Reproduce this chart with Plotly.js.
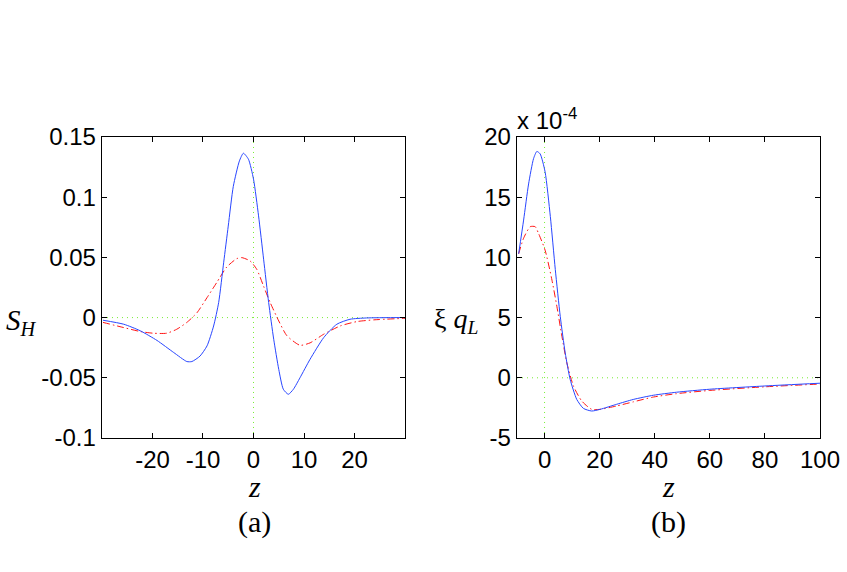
<!DOCTYPE html>
<html>
<head>
<meta charset="utf-8">
<script src="https://cdn.plot.ly/plotly-3.0.1.min.js"></script>
<style>body{margin:0}#chart{width:847px;height:572px}</style>
</head>
<body>
<div id="chart"></div>
<script>
// panel (a): S_H against z
const z_a = [-29.8, -25.7, -22.4, -19.1, -15.8, -13.2, -12.2, -10.6, -9.2, -7.9, -6.9, -5.9, -5.0, -4.0, -2.8, -2.0, -1.0, 0, 1.0, 2.0, 3.0, 4.0, 5.0, 5.9, 6.9, 7.9, 9.2, 11.2, 13.9, 16.5, 19.1, 22.4, 30]
const sh_solid = [-0.0022, -0.0055, -0.011, -0.019, -0.029, -0.0365, -0.0365, -0.032, -0.0235, -0.007, 0.0125, 0.046, 0.076, 0.109, 0.130, 0.1365, 0.1315, 0.115, 0.0845, 0.0485, 0.0125, -0.018, -0.043, -0.0595, -0.0637, -0.0595, -0.050, -0.0346, -0.0166, -0.0055, -0.0014, -0.0003, 0]
const z_a2 = [-29.8, -25.7, -22.4, -19.8, -17.2, -15.2, -13.2, -11.2, -9.2, -7.3, -5.3, -3.3, -2.3, -0.66, 0.66, 2.0, 3.3, 5.0, 6.6, 9.2, 11.2, 13.9, 17.2, 20.5, 23.8, 30]
const sh_dashdot = [-0.004, -0.0083, -0.0116, -0.013, -0.013, -0.0097, -0.004, 0.004, 0.0166, 0.029, 0.042, 0.049, 0.0498, 0.047, 0.040, 0.026, 0.0125, -0.0028, -0.015, -0.023, -0.021, -0.0138, -0.0069, -0.0033, -0.0019, -0.0006]

// panel (b): xi_qL against z, in units of 1e-4
const z_b = [-9.4, -7.6, -5.8, -4.0, -2.8, -1.6, 0.2, 2.1, 3.9, 5.7, 7.5, 9.3, 11.7, 14.1, 17.1, 20.2, 26.2, 32.2, 39.5, 47.9, 60, 80, 100]
const xi_solid = [10.3, 13.1, 16.1, 18.2, 18.8, 18.6, 17.1, 13.4, 9.0, 5.1, 2.07, -0.14, -1.8, -2.54, -2.76, -2.62, -2.2, -1.8, -1.45, -1.2, -0.95, -0.68, -0.45]
const z_b2 = [-9.4, -7.6, -5.2, -3.4, -2.2, 0.2, 2.7, 4.5, 6.3, 8.1, 10.5, 13.5, 17.1, 20.2, 26.2, 32.2, 39.5, 47.9, 60, 80, 100]
const xi_dashdot = [10.3, 11.6, 12.55, 12.55, 12.0, 10.6, 8.1, 5.9, 3.45, 1.24, -0.69, -1.93, -2.62, -2.62, -2.34, -2.0, -1.6, -1.32, -1.05, -0.75, -0.52]

const ticks_a_x = [-20, -10, 0, 10, 20]
const ticks_a_y = [0.15, 0.1, 0.05, 0, -0.05, -0.1]
const labels_a_y = ['0.15', '0.1', '0.05', '0', '-0.05', '-0.1']
const ticks_b_x = [0, 20, 40, 60, 80, 100]
const ticks_b_y = [20, 15, 10, 5, 0, -5]
const labels_b_y = ['20', '15', '10', '5', '0', '-5']

const green = '#77ee33'
const blue = 'rgb(40,70,255)'
const red = 'rgb(255,20,20)'
const tickfont = {family: 'Liberation Sans, Arial, sans-serif', size: 24, color: 'black'}
const serif = 'Liberation Serif, Times New Roman, serif'

function axis(domain, range, vals, text, anchor) {
	return {
		domain: domain,
		range: range,
		anchor: anchor,
		tickmode: 'array',
		tickvals: vals,
		ticktext: text || vals.map(String),
		ticks: 'inside',
		ticklen: 5,
		tickwidth: 1,
		tickcolor: 'black',
		mirror: 'allticks',
		showline: true,
		linecolor: 'black',
		linewidth: 1.3,
		showgrid: false,
		zeroline: false,
		tickfont: tickfont,
		automargin: false,
		fixedrange: true,
	}
}

function zeroLines(xref, yref, xr, yr) {
	// dotted cross at the origin
	const line = {color: green, width: 1, dash: '1px,4px'}
	return [
		{type: 'line', xref: xref, yref: yref, x0: 0, x1: 0, y0: yr[0], y1: yr[1], line: line, layer: 'below'},
		{type: 'line', xref: xref, yref: yref, x0: xr[0], x1: xr[1], y0: 0, y1: 0, line: line, layer: 'below'},
	]
}

function label(px, py, text, size, family) {
	return {
		xref: 'paper', yref: 'paper', x: px / 847, y: 1 - py / 572,
		xanchor: 'center', yanchor: 'middle',
		text: text, showarrow: false,
		font: {family: family || serif, size: size, color: 'black'},
	}
}

const dashdot = '7px,3px,1.5px,3px'
const yDom = [0.2343, 0.7605]

Plotly.newPlot('chart', [
	{x: z_a2, y: sh_dashdot, xaxis: 'x', yaxis: 'y', mode: 'lines', line: {color: red, width: 1, dash: dashdot, shape: 'spline', smoothing: 0.6}},
	{x: z_a, y: sh_solid, xaxis: 'x', yaxis: 'y', mode: 'lines', line: {color: blue, width: 1, shape: 'spline', smoothing: 0.6}},
	{x: z_b2, y: xi_dashdot, xaxis: 'x2', yaxis: 'y2', mode: 'lines', line: {color: red, width: 1, dash: dashdot, shape: 'spline', smoothing: 0.6}},
	{x: z_b, y: xi_solid, xaxis: 'x2', yaxis: 'y2', mode: 'lines', line: {color: blue, width: 1, shape: 'spline', smoothing: 0.6}},
], {
	width: 847,
	height: 572,
	margin: {l: 0, r: 0, t: 0, b: 0},
	showlegend: false,
	paper_bgcolor: 'white',
	plot_bgcolor: 'white',
	xaxis: axis([0.1204, 0.4782], [-30, 30], ticks_a_x, null, 'y'),
	yaxis: axis(yDom, [-0.1, 0.15], ticks_a_y, labels_a_y, 'x'),
	xaxis2: axis([0.6104, 0.9681], [-10, 100], ticks_b_x, null, 'y2'),
	yaxis2: axis(yDom, [-5, 20], ticks_b_y, labels_b_y, 'x2'),
	shapes: [
		...zeroLines('x', 'y', [-30, 30], [-0.1, 0.15]),
		...zeroLines('x2', 'y2', [-10, 100], [-5, 20]),
	],
	annotations: [
		label(254, 486, '<i>z</i>', 30),
		label(668, 486, '<i>z</i>', 30),
		label(254, 522, '(a)', 30),
		label(668, 522, '(b)', 30),
		label(21, 322, '<i>S<sub>H</sub></i>', 29),
		label(456, 320, 'ξ <i>q<sub>L</sub></i>', 28),
		{xref: 'paper', yref: 'paper', x: 515 / 847, y: 1 - 119 / 572, xanchor: 'left', yanchor: 'middle', text: 'x 10<sup>-4</sup>', showarrow: false, font: tickfont},
	],
}, {staticPlot: true})
</script>
</body>
</html>
